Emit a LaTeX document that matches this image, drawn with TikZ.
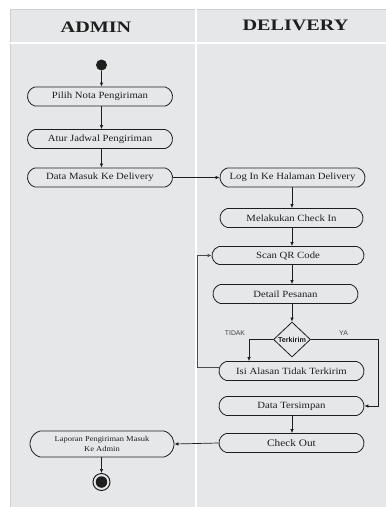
\documentclass[tikz,border=0pt]{standalone}
\usepackage{fontspec}
\setmainfont{Liberation Serif}
\newfontfamily\nodefont[FakeStretch=1.13]{Liberation Serif}
\newfontfamily\headfont[FakeStretch=1.26]{Liberation Serif}
\newfontfamily\sansf{Liberation Sans}
\usetikzlibrary{shapes.misc,shapes.geometric,arrows.meta}
\definecolor{lanebg}{HTML}{E6E7E9}
\definecolor{laneedge}{HTML}{CFCFCF}
\definecolor{ink}{HTML}{1E1E1E}
\tikzset{
  act/.style={rounded rectangle, rounded rectangle arc length=150, draw=ink, line width=0.8pt,
    minimum width=145pt, minimum height=19pt, inner sep=0pt,
    font=\nodefont\fontsize{9.5}{11}\selectfont, text=ink},
  flow/.style={draw=ink, line width=0.7pt, -{Latex[length=4pt,width=3.6pt]}},
  lanehead/.style={font=\headfont\bfseries\fontsize{16}{18}\selectfont, text=ink},
  guard/.style={font=\sansf\fontsize{6.8}{8}\selectfont, text=ink!85},
}
\begin{document}
\begin{tikzpicture}[x=1pt,y=-1pt]
\useasboundingbox (0,0) rectangle (386,507);
% swimlane frame
\fill[lanebg] (10,9) rectangle (386,507);
\draw[laneedge, line width=0.8pt] (10,507) -- (10,9) -- (386,9);
\draw[white, line width=1.8pt] (10,43) -- (386,43);
\draw[white, line width=2pt] (196,9) -- (196,507);
\node[lanehead] (hadmin) at (96,27) {ADMIN};
\node[lanehead] (hdeliv) at (295.5,25) {DELIVERY};

% admin lane
\node[circle, fill=ink, minimum size=11pt, inner sep=0pt] (start) at (101.5,65) {};
\node[act] (pilih) at (100,96.5) {Pilih Nota Pengiriman};
\node[act] (atur) at (100,139) {Atur Jadwal Pengiriman};
\node[act] (datamasuk) at (100,177.5) {Data Masuk Ke Delivery};
\node[act, minimum width=144pt, minimum height=26pt, align=center,
  font=\nodefont\fontsize{7.5}{10}\selectfont] (laporan) at (102,444)
  {Laporan Pengiriman Masuk\\Ke Admin};
\node[circle, draw=ink, line width=1pt, minimum size=17pt, inner sep=0pt] (stop) at (101.5,482) {};
\node[circle, fill=ink, minimum size=11.5pt, inner sep=0pt] (stopdot) at (101.5,482) {};

% delivery lane
\node[act] (login) at (292.5,177.5) {Log In Ke Halaman Delivery};
\node[act, minimum width=143pt] (checkin) at (291.5,218) {Melakukan Check In};
\node[act, minimum width=152pt, minimum height=18pt] (scan) at (288,255.5) {Scan QR Code};
\node[act] (detail) at (285.5,294) {Detail Pesanan};
\node[diamond, draw=ink, line width=0.8pt, minimum width=37pt, minimum height=35pt, inner sep=0pt,
  label={[font=\sansf\bfseries\fontsize{7.2}{8}\selectfont, text=ink]center:Terkirim}] (dia) at (292,339.5) {};
\node[act] (isi) at (291.5,371) {Isi Alasan Tidak Terkirim};
\node[act] (simpan) at (291.5,406) {Data Tersimpan};
\node[act, font=\nodefont\fontsize{10}{11}\selectfont] (checkout) at (291.5,443) {Check Out};
\node[guard] (tidak) at (235,333.5) {TIDAK};
\node[guard] (ya) at (343.5,333) {YA};

\coordinate (xa) at (101.5,0);
\coordinate (xd) at (292,0);
\coordinate (xt) at (249,0);
\coordinate (xy) at (378,0);
\coordinate (xl) at (197.5,300);

% connectors
\draw[flow] (start.south) -- (xa |- pilih.north);
\draw[flow] (xa |- pilih.south) -- (xa |- atur.north);
\draw[flow] (xa |- atur.south) -- (xa |- datamasuk.north);
\draw[flow] (datamasuk.east) -- (login.west);
\draw[flow] (xd |- login.south) -- (xd |- checkin.north);
\draw[flow] (xd |- checkin.south) -- (xd |- scan.north);
\draw[flow] (xd |- scan.south) -- (xd |- detail.north);
\draw[flow] (xd |- detail.south) -- (dia.north);
\draw[flow] (dia.west) -| (xt |- isi.north);
\draw[flow] (dia.east) -| (xy |- simpan.east) -- (simpan.east);
\draw[flow, draw=ink!80] ([yshift=4pt]isi.west) -| (xl) |- (scan.west);
\draw[flow] (xd |- simpan.south) -- (xd |- checkout.north);
\draw[flow] (checkout.west) -- (laporan.east);
\draw[flow] (xa |- laporan.south) -- (stop.north);
\end{tikzpicture}
\end{document}
